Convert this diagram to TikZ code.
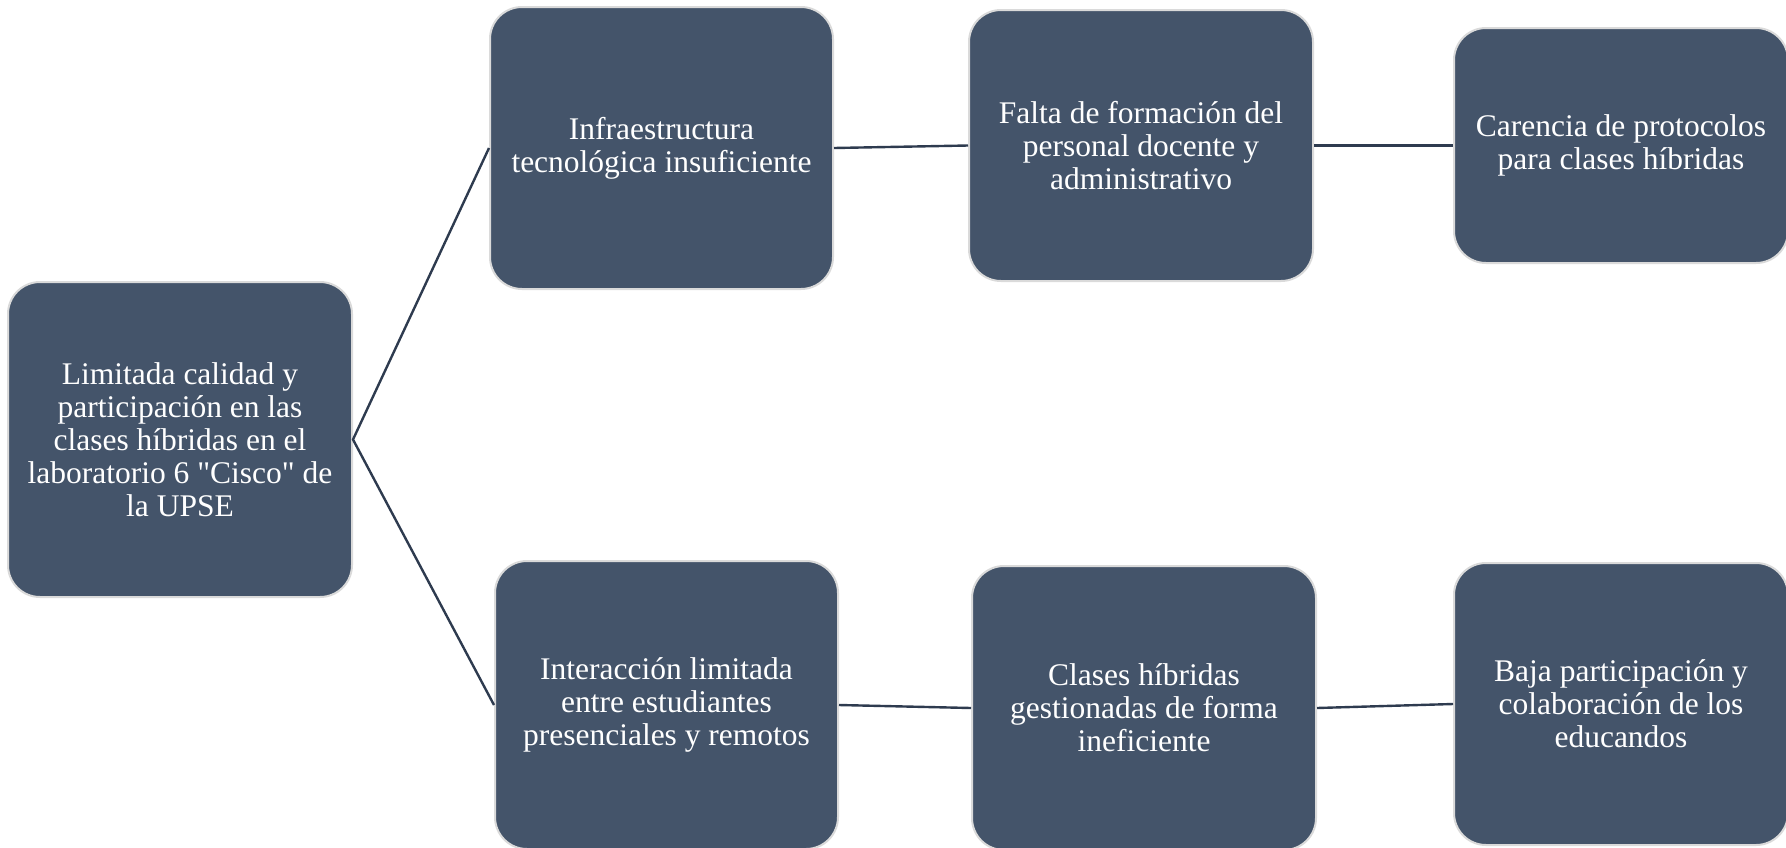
\documentclass[tikz,border=0pt]{standalone}
\usepackage{fontspec}
\setmainfont{Liberation Serif}
\usepackage{tikz}
\definecolor{boxfill}{HTML}{44546A}
\definecolor{boxline}{HTML}{DADADA}
\definecolor{link}{HTML}{2E3B4F}

\begin{document}
\begin{tikzpicture}[x=1pt,y=-1pt,
	box/.style={rectangle, rounded corners=32pt, fill=boxfill, draw=boxline, line width=2pt,
		text=white, align=center, inner sep=0pt, font=\fontsize{31.5}{33}\selectfont},
	link/.style={draw=link, line width=2.4pt}]
			\useasboundingbox (0,0) rectangle (1786,847);

			\node[box, minimum width=344pt, minimum height=315pt] (0) at (180,439.5) {Limitada calidad y\\participación en las\\clases híbridas en el\\laboratorio 6 \textquotedbl Cisco\textquotedbl{} de\\la UPSE};

			\node[box, minimum width=343pt, minimum height=282pt] (1) at (661.5,148) {Infraestructura\\tecnológica insuficiente};
			\node[box, minimum width=344pt, minimum height=271pt] (2) at (1141,145.5) {Falta de formación del\\personal docente y\\administrativo};
			\node[box, minimum width=334pt, minimum height=235pt] (3) at (1621,145.5) {Carencia de protocolos\\para clases híbridas};

			\node[box, minimum width=343pt, minimum height=288pt] (4) at (666.5,705) {Interacción limitada\\entre estudiantes\\presenciales y remotos};
			\node[box, minimum width=344pt, minimum height=284pt] (5) at (1144,708) {Clases híbridas\\gestionadas de forma\\ineficiente};
			\node[box, minimum width=334pt, minimum height=282pt] (6) at (1621,704) {Baja participación y\\colaboración de los\\educandos};

			\draw[link] (1.west) -- (0.east) -- (4.west);
			\draw[link] (1.east) -- (2.west);
			\draw[link] (2.east) -- (3.west);
			\draw[link] (4.east) -- (5.west);
			\draw[link] (5.east) -- (6.west);
		\end{tikzpicture}
\end{document}
